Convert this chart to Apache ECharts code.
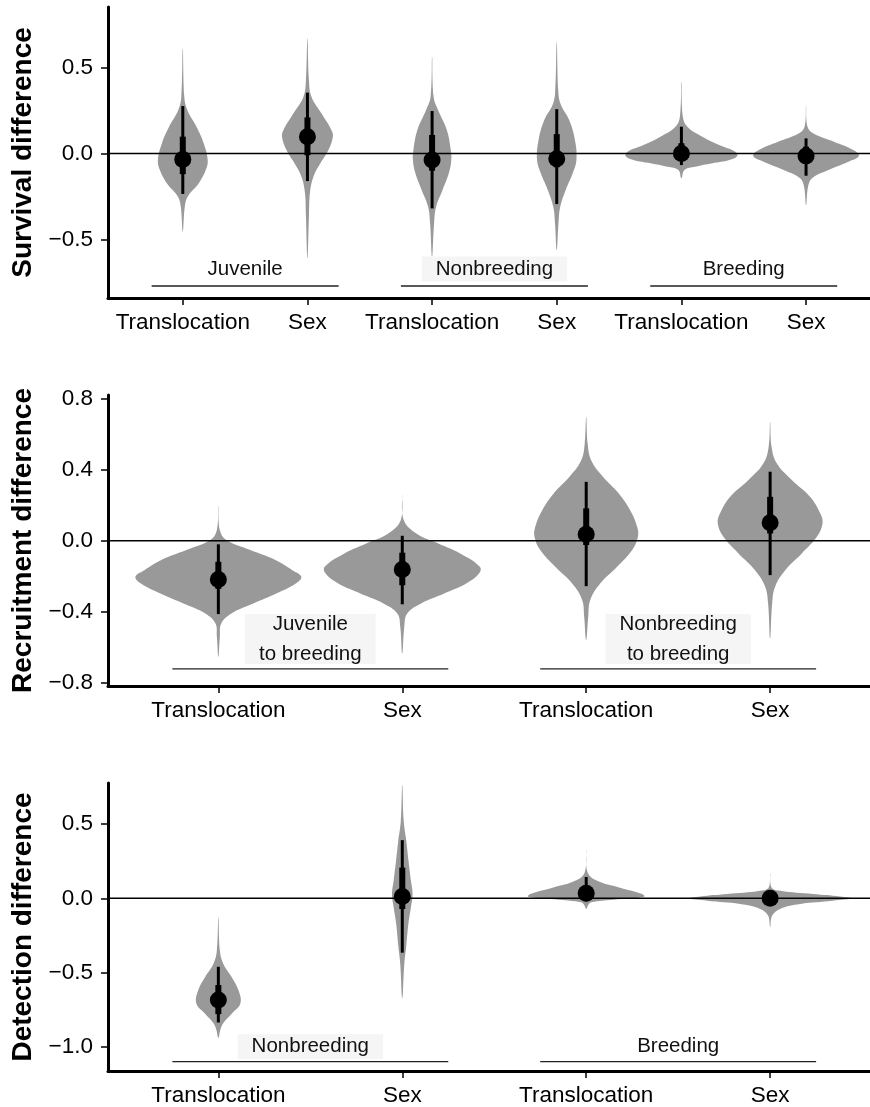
<!DOCTYPE html>
<html><head><meta charset="utf-8">
<script src="https://cdn.jsdelivr.net/npm/echarts@6/dist/echarts.min.js"></script>
<style>html,body{margin:0;padding:0;background:#fff}#c{width:870px;height:1107px}</style>
</head><body><div id="c"></div>
<script>
// ================= DATA =================
// Panel 1: Survival
const survivalCategories = ['Translocation','Sex','Translocation','Sex','Translocation','Sex'];
const survivalMedian    = [-0.034, 0.098, -0.038, -0.030, 0.000, -0.015];
const survivalOuterLow  = [-0.235, -0.160, -0.319, -0.294, -0.067, -0.129];
const survivalOuterHigh = [ 0.276,  0.354,  0.247,  0.258,  0.156,  0.088];
const survivalInnerLow  = [-0.120, -0.010, -0.100, -0.080, -0.030, -0.060];
const survivalInnerHigh = [ 0.098,  0.210,  0.108,  0.113,  0.060,  0.040];
const survivalDensityY = [
  [0.612,0.33,0.253,0.156,0.059,-0.038,-0.096,-0.173,-0.25,-0.31,-0.455],
  [0.67,0.427,0.33,0.234,0.137,0.098,0.02,-0.057,-0.135,-0.23,-0.367,-0.61],
  [0.563,0.33,0.253,0.137,0.02,-0.038,-0.115,-0.212,-0.31,-0.406,-0.6],
  [0.65,0.37,0.29,0.195,0.078,-0.038,-0.115,-0.212,-0.31,-0.406,-0.561],
  [0.418,0.214,0.156,0.098,0.049,0.01,-0.015,-0.038,-0.057,-0.077,-0.096,-0.144],
  [0.276,0.156,0.117,0.069,0.02,-0.015,-0.048,-0.096,-0.144,-0.193,-0.3]
];
const survivalDensityW = [
  [0,0.012,0.036,0.11,0.168,0.2,0.184,0.128,0.04,0.016,0],
  [0,0.012,0.032,0.112,0.192,0.204,0.168,0.104,0.048,0.02,0.012,0],
  [0,0.012,0.048,0.118,0.15,0.154,0.134,0.084,0.032,0.016,0],
  [0,0.012,0.03,0.1,0.146,0.158,0.128,0.072,0.028,0.014,0],
  [0,0.012,0.048,0.168,0.304,0.432,0.448,0.384,0.248,0.112,0.024,0],
  [0,0.012,0.06,0.224,0.38,0.424,0.34,0.18,0.048,0.016,0]
];
const survivalTicks = [-0.5, 0, 0.5];
const survivalGroups = ['Juvenile','Nonbreeding','Breeding'];
const survivalGroupFrom = [0.75, 2.75, 4.75];
const survivalGroupTo   = [2.25, 4.25, 6.25];
const survivalGroupBoxed = [false, true, false];

// Panel 2: Recruitment
const recruitCategories = ['Translocation','Sex','Translocation','Sex'];
const recruitMedian    = [-0.217, -0.161, 0.036, 0.101];
const recruitOuterLow  = [-0.412, -0.357, -0.255, -0.193];
const recruitOuterHigh = [-0.020,  0.028,  0.331,  0.388];
const recruitInnerLow  = [-0.270, -0.250, -0.024,  0.041];
const recruitInnerHigh = [-0.118, -0.067,  0.182,  0.247];
const recruitDensityY = [
  [0.195,0.06,0.004,-0.052,-0.108,-0.165,-0.202,-0.24,-0.296,-0.352,-0.408,-0.464,-0.54,-0.652],
  [0.257,0.116,0.041,-0.015,-0.071,-0.146,-0.183,-0.24,-0.296,-0.352,-0.408,-0.483,-0.633],
  [0.697,0.547,0.453,0.36,0.266,0.172,0.079,0.022,-0.052,-0.146,-0.24,-0.333,-0.427,-0.558],
  [0.668,0.528,0.435,0.341,0.247,0.154,0.098,0.022,-0.071,-0.165,-0.258,-0.352,-0.549]
];
const recruitDensityW = [
  [0,0.008,0.043,0.174,0.31,0.402,0.451,0.421,0.315,0.19,0.071,0.016,0.008,0],
  [0,0.008,0.076,0.196,0.315,0.422,0.418,0.348,0.228,0.102,0.027,0.011,0],
  [0,0.008,0.027,0.091,0.177,0.239,0.277,0.281,0.25,0.168,0.076,0.022,0.011,0],
  [0,0.008,0.036,0.118,0.217,0.272,0.285,0.254,0.172,0.082,0.027,0.011,0]
];
const recruitTicks = [-0.8, -0.4, 0, 0.4, 0.8];
const recruitGroups = ['Juvenile\nto breeding','Nonbreeding\nto breeding'];
const recruitGroupFrom = [0.75, 2.75];
const recruitGroupTo   = [2.25, 4.25];
const recruitGroupBoxed = [true, true];

// Panel 3: Detection
const detectCategories = ['Translocation','Sex','Translocation','Sex'];
const detectMedian    = [-0.684, 0.013, 0.035, 0.000];
const detectOuterLow  = [-0.836, -0.366, -0.020, -0.050];
const detectOuterHigh = [-0.461,  0.392,  0.144,  0.050];
const detectInnerLow  = [-0.780, -0.072,  0.000, -0.020];
const detectInnerHigh = [-0.584,  0.207,  0.070,  0.020];
const detectDensityY = [
  [-0.127,-0.35,-0.439,-0.528,-0.618,-0.707,-0.773,-0.84,-0.885,-0.94],
  [0.764,0.519,0.385,0.251,0.118,0.029,-0.06,-0.172,-0.328,-0.44,-0.673],
  [0.325,0.174,0.118,0.073,0.029,0.011,-0.009,-0.027,-0.045,-0.071],
  [0.169,0.073,0.051,0.029,0.013,0.0,-0.016,-0.038,-0.071,-0.116,-0.194]
];
const detectDensityW = [
  [0,0.008,0.026,0.071,0.109,0.12,0.076,0.027,0.011,0],
  [0,0.008,0.022,0.034,0.047,0.056,0.047,0.033,0.021,0.011,0],
  [0,0.008,0.06,0.179,0.304,0.315,0.147,0.027,0.011,0],
  [0,0.008,0.054,0.234,0.38,0.446,0.342,0.163,0.054,0.011,0]
];
const detectTicks = [-1.0, -0.5, 0, 0.5];
const detectGroups = ['Nonbreeding','Breeding'];
const detectGroupFrom = [0.75, 2.75];
const detectGroupTo   = [2.25, 4.25];
const detectGroupBoxed = [true, false];

// ================= BUILD =================
const FONT = '"Liberation Sans", Arial, Helvetica, sans-serif';
const panels = [
  { title:'Survival difference', cats:survivalCategories, med:survivalMedian, oLo:survivalOuterLow, oHi:survivalOuterHigh,
    iLo:survivalInnerLow, iHi:survivalInnerHigh, dY:survivalDensityY, dW:survivalDensityW, ticks:survivalTicks,
    groups:survivalGroups, gFrom:survivalGroupFrom, gTo:survivalGroupTo, gBox:survivalGroupBoxed,
    yMin:-0.840, yMax:0.852, xMax:6.513, top:7, height:291, gLineY:-0.77, gLabelY:-0.672 },
  { title:'Recruitment difference', cats:recruitCategories, med:recruitMedian, oLo:recruitOuterLow, oHi:recruitOuterHigh,
    iLo:recruitInnerLow, iHi:recruitInnerHigh, dY:recruitDensityY, dW:recruitDensityW, ticks:recruitTicks,
    groups:recruitGroups, gFrom:recruitGroupFrom, gTo:recruitGroupTo, gBox:recruitGroupBoxed,
    yMin:-0.816, yMax:0.819, xMax:4.543, top:395, height:291, gLineY:-0.72, gLabelY:-0.552 },
  { title:'Detection difference', cats:detectCategories, med:detectMedian, oLo:detectOuterLow, oHi:detectOuterHigh,
    iLo:detectInnerLow, iHi:detectInnerHigh, dY:detectDensityY, dW:detectDensityW, ticks:detectTicks,
    groups:detectGroups, gFrom:detectGroupFrom, gTo:detectGroupTo, gBox:detectGroupBoxed,
    yMin:-1.163, yMax:0.777, xMax:4.543, top:783, height:291, gLineY:-1.10, gLabelY:-1.0 }
];

const measureCtx = document.createElement('canvas').getContext('2d');
function textWidth(t, size){ measureCtx.font = size + 'px ' + FONT; return Math.max(...t.split('\n').map(s=>measureCtx.measureText(s).width)); }
function fmt(v){ const s = Math.abs(v).toFixed(1); return (v < -1e-9 ? '\u2212' : '') + s; }

const grids = [], xAxes = [], yAxes = [], series = [];
panels.forEach((p, pi) => {
  const catVals = p.cats.map((_, i) => i + 1);
  grids.push({ left:108, right:0, top:p.top, height:p.height, containLabel:false });
  xAxes.push({
    gridIndex:pi, type:'value', min:0.4, max:p.xMax,
    axisLine:{ show:true, onZero:false, lineStyle:{ color:'#000', width:3 } },
    axisTick:{ show:true, customValues:catVals, length:7, lineStyle:{ color:'#000', width:1.5 } },
    axisLabel:{ show:true, customValues:catVals, margin:13, color:'#000', fontSize:22.5, fontFamily:FONT,
      formatter:(v)=>p.cats[Math.round(v)-1] || '' },
    splitLine:{ show:false }
  });
  yAxes.push({
    gridIndex:pi, type:'value', min:p.yMin, max:p.yMax,
    name:p.title, nameLocation:'middle', nameGap:64,
    nameTextStyle:{ fontSize:28, fontWeight:'bold', color:'#000', fontFamily:FONT },
    axisLine:{ show:true, onZero:false, lineStyle:{ color:'#000', width:3 } },
    axisTick:{ show:true, customValues:p.ticks, length:7, lineStyle:{ color:'#000', width:1.5 } },
    axisLabel:{ show:true, customValues:p.ticks, margin:15, color:'#000', fontSize:22.5, fontFamily:FONT,
      formatter:(v)=>fmt(v) },
    splitLine:{ show:false }
  });

  // violins
  series.push({
    type:'custom', xAxisIndex:pi, yAxisIndex:pi, z:2, silent:true,
    data: p.med.map((m, i) => [i + 1, m]),
    renderItem:(params, api) => {
      const i = params.dataIndex, x = i + 1, ys = p.dY[i], ws = p.dW[i];
      const pts = [];
      for (let k = 0; k < ys.length; k++) pts.push(api.coord([x - ws[k], ys[k]]));
      for (let k = ys.length - 2; k >= 1; k--) pts.push(api.coord([x + ws[k], ys[k]]));
      return { type:'polygon', shape:{ points:pts, smooth:0.4 }, style:{ fill:'#999999' } };
    }
  });
  // zero reference line
  series.push({
    type:'line', xAxisIndex:pi, yAxisIndex:pi, z:3, silent:true, symbol:'none',
    data:[[0.4, 0], [p.xMax, 0]], lineStyle:{ color:'#000', width:1.5 }
  });
  // intervals + medians
  series.push({
    type:'custom', xAxisIndex:pi, yAxisIndex:pi, z:4, silent:true,
    data: p.med.map((m, i) => [i + 1, m]),
    renderItem:(params, api) => {
      const i = params.dataIndex, x = i + 1;
      const a = api.coord([x, p.oLo[i]]), b = api.coord([x, p.oHi[i]]);
      const c = api.coord([x, p.iLo[i]]), d = api.coord([x, p.iHi[i]]);
      const m = api.coord([x, p.med[i]]);
      return { type:'group', children:[
        { type:'line', shape:{ x1:a[0], y1:a[1], x2:b[0], y2:b[1] }, style:{ stroke:'#000', lineWidth:3 } },
        { type:'line', shape:{ x1:c[0], y1:c[1], x2:d[0], y2:d[1] }, style:{ stroke:'#000', lineWidth:6 } },
        { type:'circle', shape:{ cx:m[0], cy:m[1], r:8.5 }, style:{ fill:'#000' } }
      ]};
    }
  });
  // group annotations
  series.push({
    type:'custom', xAxisIndex:pi, yAxisIndex:pi, z:5, silent:true,
    data: p.groups.map((g, i) => [(p.gFrom[i] + p.gTo[i]) / 2, p.gLabelY]),
    renderItem:(params, api) => {
      const i = params.dataIndex;
      const l1 = api.coord([p.gFrom[i], p.gLineY]), l2 = api.coord([p.gTo[i], p.gLineY]);
      const t = api.coord([(p.gFrom[i] + p.gTo[i]) / 2, p.gLabelY]);
      const label = p.groups[i];
      const lines = label.split('\n').length;
      const ch = [];
      if (p.gBox[i]) {
        const w = textWidth(label, 20.5) + 28;
        const h = lines === 1 ? 25 : 50;
        ch.push({ type:'rect', shape:{ x:t[0] - w / 2, y:t[1] - h / 2, width:w, height:h }, style:{ fill:'#f5f5f5' } });
      }
      ch.push({ type:'text', style:{ text:label, x:t[0], y:t[1], align:'center', verticalAlign:'middle',
        fill:'#111', fontSize:20.5, fontFamily:FONT, lineHeight:30 } });
      ch.push({ type:'line', shape:{ x1:l1[0], y1:l1[1], x2:l2[0], y2:l2[1] }, style:{ stroke:'#222', lineWidth:1.4 } });
      return { type:'group', children:ch };
    }
  });
});

const chart = echarts.init(document.getElementById('c'), null, { renderer:'canvas' });
chart.setOption({ animation:false, backgroundColor:'#fff', grid:grids, xAxis:xAxes, yAxis:yAxes, series:series });
</script></body></html>
